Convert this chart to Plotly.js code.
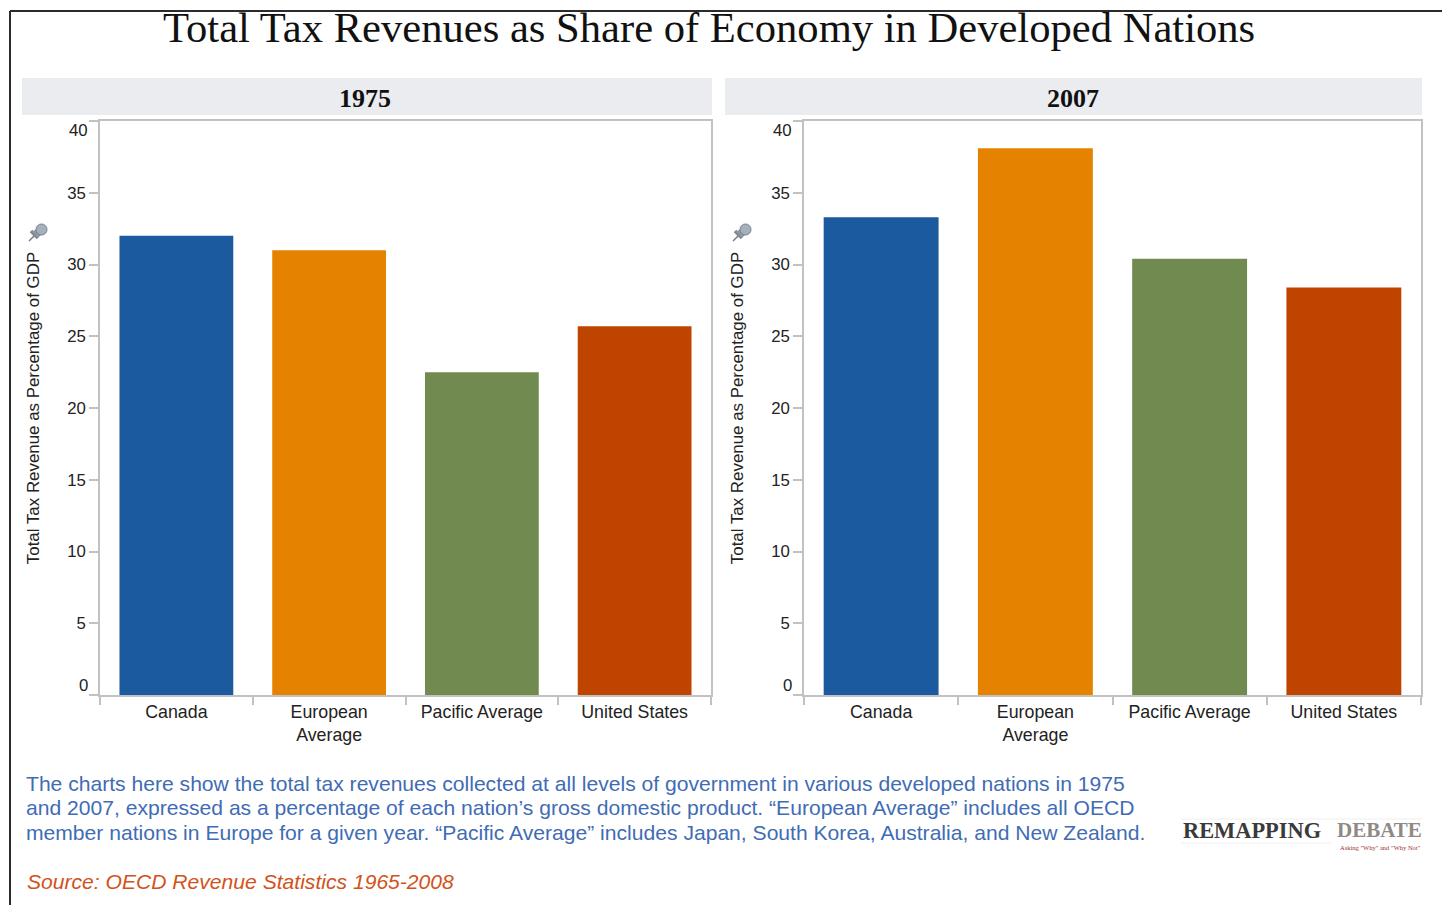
<!DOCTYPE html>
<html>
<head>
<meta charset="utf-8">
<title>Total Tax Revenues as Share of Economy in Developed Nations</title>
<script src="https://cdn.plot.ly/plotly-3.0.1.min.js"></script>
<style>html,body{margin:0;padding:0;background:#fff;overflow:hidden}#chart{width:1442px;height:905px}</style>
</head>
<body>
<div id="chart"></div>
<script>
// Chart data
const categories = ['Canada', 'European<br>Average', 'Pacific Average', 'United States'];
const values1975 = [32.0, 31.0, 22.5, 25.7];
const values2007 = [33.3, 38.1, 30.4, 28.4];
const barColors = ['#1c5a9f', '#e58300', '#708a4f', '#bf4400'];
const yTicks = [0, 5, 10, 15, 20, 25, 30, 35, 40];
const yTitle = 'Total Tax Revenue as Percentage of GDP';
const chartTitle = 'Total Tax Revenues as Share of Economy in Developed Nations';
const noteLines = [
  'The charts here show the total tax revenues collected at all levels of government in various developed nations in 1975',
  'and 2007, expressed as a percentage of each nation\u2019s gross domestic product. \u201cEuropean Average\u201d includes all OECD',
  'member nations in Europe for a given year. \u201cPacific Average\u201d includes Japan, South Korea, Australia, and New Zealand.'
];
const sourceLine = 'Source: OECD Revenue Statistics 1965-2008';

// Page geometry in pixels
const W = 1442, H = 905;
const px = x => x / W;
const py = y => 1 - y / H;
const SANS = 'Liberation Sans, Arial, sans-serif';
const SERIF = 'Liberation Serif, Georgia, serif';
const GREY = '#c2c2c2';
const INK = '#222';

function bars(values, xa, ya) {
  return {
    type: 'bar', x: categories, y: values, xaxis: xa, yaxis: ya, width: 0.745,
    marker: {color: barColors, line: {width: 0}}, showlegend: false, hoverinfo: 'x+y'
  };
}

function yAxis(domainAnchor) {
  return {
    anchor: domainAnchor, domain: [py(695), py(121)], range: [0, 40], fixedrange: true,
    tickmode: 'array', tickvals: yTicks,
    ticktext: yTicks.map(v => (v === 0 || v === 40) ? ' ' : String(v)),
    ticks: 'outside', ticklen: 9, tickcolor: GREY, tickwidth: 1.5,
    showgrid: false, zeroline: false, showline: true, linecolor: GREY, linewidth: 1.5, mirror: true,
    tickfont: {family: SANS, size: 16.8, color: INK},
    title: {text: yTitle, standoff: 23, font: {family: SANS, size: 16.9, color: INK}}
  };
}

function xAxis(domain, anchor) {
  return {
    anchor: anchor, domain: domain, type: 'category', fixedrange: true,
    tickson: 'boundaries', ticks: 'outside', ticklen: 8, tickcolor: GREY, tickwidth: 1.5,
    showgrid: false, showline: true, linecolor: GREY, linewidth: 1.5, mirror: true,
    tickangle: 0, tickfont: {family: SANS, size: 17.8, color: INK}
  };
}

// Small pushpin glyph above each axis title
function pin(dx) {
  const line = (x0, y0, x1, y1, color, width) => ({
    type: 'line', xref: 'paper', yref: 'paper', layer: 'above',
    x0: px(x0 + dx), y0: py(y0), x1: px(x1 + dx), y1: py(y1),
    line: {color: color, width: width}
  });
  return [
    line(29, 241, 36, 234, '#6f7c88', 1.5),
    line(31, 231, 38, 238, '#7d8a96', 3.5),
    line(35, 235, 41, 230, '#8b98a4', 8),
    {type: 'circle', xref: 'paper', yref: 'paper', layer: 'above',
     x0: px(36 + dx), x1: px(47 + dx), y0: py(235), y1: py(224),
     fillcolor: '#a6b0ba', line: {color: '#75828e', width: 1}}
  ];
}

const shapes = [
  // page frame, top and left edges
  {type: 'line', xref: 'paper', yref: 'paper', x0: px(10), x1: 1, y0: py(11), y1: py(11), line: {color: '#2b2b2b', width: 2}},
  {type: 'line', xref: 'paper', yref: 'paper', x0: px(10), x1: px(10), y0: py(11), y1: 0, line: {color: '#2b2b2b', width: 2}},
  // panel header strips
  {type: 'rect', xref: 'paper', yref: 'paper', x0: px(22), x1: px(712), y0: py(115), y1: py(78), fillcolor: '#ebecf0', line: {width: 0}, layer: 'below'},
  {type: 'rect', xref: 'paper', yref: 'paper', x0: px(725), x1: px(1422), y0: py(115), y1: py(78), fillcolor: '#ebecf0', line: {width: 0}, layer: 'below'},
  // rules around the wordmark
  {type: 'line', xref: 'paper', yref: 'paper', x0: px(1181), x1: px(1422), y0: py(819), y1: py(819), line: {color: '#efefef', width: 1}},
  {type: 'line', xref: 'paper', yref: 'paper', x0: px(1181), x1: px(1332), y0: py(843), y1: py(843), line: {color: '#efefef', width: 1}},
  ...pin(0), ...pin(704)
];

function pageText(text, x, y, font, anchor) {
  return {
    text: text, xref: 'paper', yref: 'paper', x: px(x), y: py(y), showarrow: false,
    xanchor: anchor || 'left', yanchor: 'middle', align: anchor || 'left', font: font
  };
}

// End labels on the value axis sit inside the axis span
function endLabels(ya, xa) {
  const a = (v, shift) => ({
    text: String(v), xref: xa + ' domain', yref: ya, x: 0, y: v, xshift: -10, yshift: shift,
    xanchor: 'right', yanchor: 'middle', showarrow: false,
    font: {family: SANS, size: 16.8, color: INK}
  });
  return [a(0, 10), a(40, -9)];
}

const noteFont = {family: SANS, size: 21.1, color: '#3f6cb5'};
const annotations = [
  pageText(chartTitle, 708.5, 28, {family: SERIF, size: 42.6, color: '#111'}, 'center'),
  pageText('<b>1975</b>', 365, 98, {family: SERIF, size: 26, color: '#111'}, 'center'),
  pageText('<b>2007</b>', 1073, 98, {family: SERIF, size: 26, color: '#111'}, 'center'),
  pageText(noteLines[0], 24, 783, noteFont),
  pageText(noteLines[1], 24, 807, noteFont),
  pageText(noteLines[2], 24, 832, noteFont),
  pageText('<i>' + sourceLine + '</i>', 25, 881, {family: SANS, size: 21.1, color: '#d2531a'}),
  pageText('<b>REMAPPING</b>', 1181, 830, {family: SERIF, size: 22.4, color: '#3a3a3a'}),
  pageText('<b>DEBATE</b>', 1424, 830, {family: SERIF, size: 21, color: '#8f8a85'}, 'right'),
  pageText('Asking "Why" and "Why Not"', 1423, 847, {family: SERIF, size: 6.5, color: '#a03030'}, 'right'),
  ...endLabels('y', 'x'),
  ...endLabels('y2', 'x2')
];

const layout = {
  width: W, height: H, autosize: false,
  margin: {l: 0, r: 0, t: 0, b: 0},
  paper_bgcolor: '#fff', plot_bgcolor: '#fff',
  showlegend: false, bargap: 0.25,
  xaxis: xAxis([px(100), px(711)], 'y'),
  yaxis: yAxis('x'),
  xaxis2: xAxis([px(804), px(1421)], 'y2'),
  yaxis2: yAxis('x2'),
  shapes: shapes,
  annotations: annotations
};

Plotly.newPlot('chart', [bars(values1975, 'x', 'y'), bars(values2007, 'x2', 'y2')], layout,
  {displayModeBar: false, responsive: false});
</script>
</body>
</html>
